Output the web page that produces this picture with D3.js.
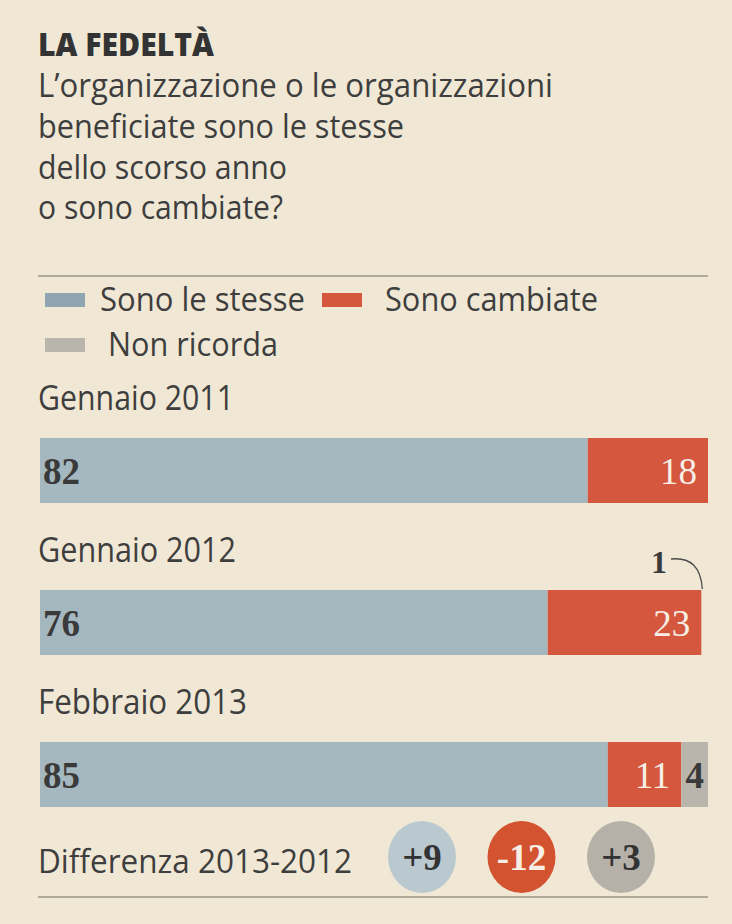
<!DOCTYPE html>
<html><head><meta charset="utf-8">
<script src="https://cdn.jsdelivr.net/npm/d3@7"></script>
<style>
html,body{margin:0;padding:0;background:#f0e8d5;}
svg{display:block;}
</style></head>
<body>
<script>
// ---- data ----
const titleText = "LA FEDELTÀ";
const subtitleLines = ["L\u2019organizzazione o le organizzazioni","beneficiate sono le stesse","dello scorso anno","o sono cambiate?"];
const periods = ["Gennaio 2011","Gennaio 2012","Febbraio 2013"];
const seriesNames = ["Sono le stesse","Sono cambiate","Non ricorda"];
const stesse = [82,76,85];
const cambiate = [18,23,11];
const nonRicorda = [0,1,4];
const diffLabel = "Differenza 2013-2012";
const diffValues = [9,-12,3];

// ---- setup ----
const W = 732, H = 924;
const colors = ["#a5b8c0","#d4573e","#b9b5ad"];
const circleColors = ["#b9c9cf","#d3522f","#b5b1a9"];
const dark = "#3e3e3e";
const sans = "'Open Sans', Lato, sans-serif";
const serif = "'Liberation Serif', 'DejaVu Serif', serif";

const svg = d3.select("body").append("svg").attr("width",W).attr("height",H);
svg.append("rect").attr("width",W).attr("height",H).attr("fill","#f0e8d5");

function fitText(sel, w){ sel.attr("textLength", w).attr("lengthAdjust","spacingAndGlyphs"); return sel; }

// title
fitText(svg.append("text").attr("x",38).attr("y",56).attr("font-family",sans).attr("font-weight",800)
  .attr("font-size",32).attr("fill","#333").text(titleText),176);
const subW = [515,366,249,245];
const subY = [97,138,179,219];
subtitleLines.forEach((t,i)=>{
  fitText(svg.append("text").attr("x",38).attr("y",subY[i]).attr("font-family",sans)
    .attr("font-size",32).attr("fill",dark).text(t), subW[i]);
});

// rules
svg.append("line").attr("x1",38).attr("x2",708).attr("y1",276).attr("y2",276).attr("stroke","#6f6a60").attr("stroke-width",1.2);
svg.append("line").attr("x1",38).attr("x2",708).attr("y1",897).attr("y2",897).attr("stroke","#6f6a60").attr("stroke-width",1.2);

// legend
const legendItems = [
  {sx:45, sy:293, tx:100, ty:311, tw:205},
  {sx:322, sy:293, tx:385, ty:311, tw:213},
  {sx:45, sy:338, tx:108, ty:356, tw:170}
];
seriesNames.forEach((n,i)=>{
  const L = legendItems[i];
  svg.append("rect").attr("x",L.sx).attr("y",L.sy).attr("width",40).attr("height",14).attr("fill",i===0?"#8fa6b1":colors[i]);
  fitText(svg.append("text").attr("x",L.tx).attr("y",L.ty).attr("font-family",sans).attr("font-size",33)
    .attr("fill",dark).text(n), L.tw);
});

// scales
const x = d3.scaleLinear().domain([0,100]).range([40,708]);
const y = d3.scaleBand().domain(periods).range([380,836]).paddingInner(0);
const barTop = 58, barH = 65;

const table = periods.map((p,i)=>({period:p, stesse:stesse[i], cambiate:cambiate[i], non:nonRicorda[i]}));
const keys = ["stesse","cambiate","non"];
const stack = d3.stack().keys(keys)(table);

// period labels
const labW = [196,198,209];
periods.forEach((p,i)=>{
  fitText(svg.append("text").attr("x",38).attr("y",y(p)+30).attr("font-family",sans).attr("font-size",34)
    .attr("fill",dark).text(p), labW[i]);
});

// bars (segments too thin to hold a label are labelled outside and not drawn, as in the original)
stack.forEach((layer,k)=>{
  svg.append("g").selectAll("rect").data(layer.filter(d=>k<2 || d.data.non>=3)).join("rect")
    .attr("x",d=>x(d[0])).attr("width",d=>x(d[1])-x(d[0]))
    .attr("y",d=>y(d.data.period)+barTop).attr("height",barH)
    .attr("fill",colors[k]);
});

// value labels
const numSize = 37;
table.forEach(d=>{
  const ty = y(d.period)+barTop+barH/2+13;
  svg.append("text").attr("x",x(0)+3).attr("y",ty).attr("font-family",serif).attr("font-weight","bold")
    .attr("font-size",numSize).attr("fill","#3a3a3a").text(d.stesse);
  const redEnd = x(d.stesse+d.cambiate);
  svg.append("text").attr("x",redEnd-11).attr("y",ty).attr("text-anchor","end").attr("font-family",serif)
    .attr("font-size",numSize).attr("fill","#f7efe6").text(d.cambiate);
  if(d.non>=3){
    svg.append("text").attr("x",(x(d.stesse+d.cambiate)+x(100))/2).attr("y",ty).attr("text-anchor","middle")
      .attr("font-family",serif).attr("font-weight","bold").attr("font-size",numSize).attr("fill","#3a3a3a").text(d.non);
  } else if(d.non>0){
    const top = y(d.period)+barTop;
    const ex = x(100-d.non)+1;
    svg.append("text").attr("x",667).attr("y",top-17).attr("text-anchor","end").attr("font-family",serif)
      .attr("font-weight","bold").attr("font-size",32).attr("fill","#3a3a3a").text(d.non);
    svg.append("path").attr("d",`M${671},${top-31} Q${ex-2},${top-34} ${ex},${top-1}`)
      .attr("fill","none").attr("stroke","#4a4a4a").attr("stroke-width",1.3);
  }
});

// difference row
fitText(svg.append("text").attr("x",38).attr("y",873).attr("font-family",sans).attr("font-size",33)
  .attr("fill",dark).text(diffLabel), 314);
const cx = d3.scalePoint().domain(d3.range(diffValues.length)).range([422,621]);
const fmt = v => (v>0?"+":"")+v;
diffValues.forEach((v,i)=>{
  svg.append("ellipse").attr("cx",cx(i)).attr("cy",857).attr("rx",34).attr("ry",36).attr("fill",circleColors[i]);
  svg.append("text").attr("x",cx(i)).attr("y",870).attr("text-anchor","middle").attr("font-family",serif)
    .attr("font-weight","bold").attr("font-size",37).attr("fill",i===1?"#f7efe6":"#333").text(fmt(v));
});
</script>
</body></html>
